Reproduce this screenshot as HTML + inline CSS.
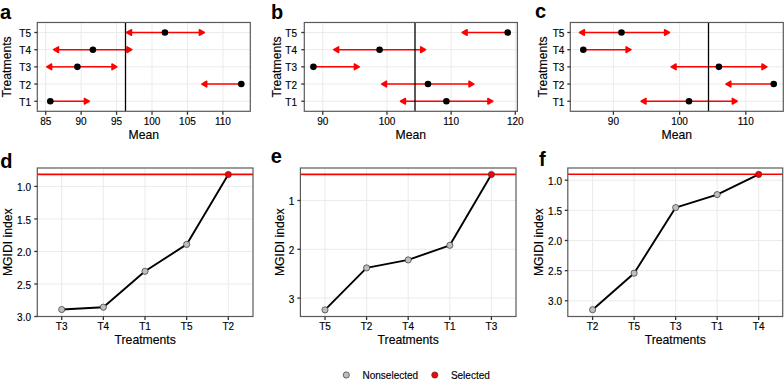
<!DOCTYPE html>
<html><head><meta charset="utf-8"><title>MGIDI figure</title>
<style>
html,body{margin:0;padding:0;background:#fff;}
body{width:784px;height:391px;overflow:hidden;}
svg{display:block;}

text{font-family:"Liberation Sans",sans-serif;}
.tk{font-size:10px;fill:#000;stroke:#000;stroke-width:0.15px;}
.ti{font-size:12.2px;fill:#000;stroke:#000;stroke-width:0.15px;}
.pl{font-size:20px;font-weight:bold;fill:#000;}
.lg{font-size:10px;fill:#000;stroke:#000;stroke-width:0.15px;}
</style></head>
<body><div class="wrap">
<svg width="784" height="391" viewBox="0 0 784 391">
<rect width="784" height="391" fill="#fff"/>
<g>
<rect x="37.3" y="22.48" width="213" height="88.82" fill="#fff"/>
<line x1="37.3" y1="32.5" x2="250.3" y2="32.5" stroke="#ebebeb" stroke-width="1"/>
<line x1="37.3" y1="49.7" x2="250.3" y2="49.7" stroke="#ebebeb" stroke-width="1"/>
<line x1="37.3" y1="66.85" x2="250.3" y2="66.85" stroke="#ebebeb" stroke-width="1"/>
<line x1="37.3" y1="84.05" x2="250.3" y2="84.05" stroke="#ebebeb" stroke-width="1"/>
<line x1="37.3" y1="101.25" x2="250.3" y2="101.25" stroke="#ebebeb" stroke-width="1"/>
<line x1="45.7" y1="22.48" x2="45.7" y2="111.3" stroke="#ebebeb" stroke-width="1"/>
<line x1="81.14" y1="22.48" x2="81.14" y2="111.3" stroke="#ebebeb" stroke-width="1"/>
<line x1="116.58" y1="22.48" x2="116.58" y2="111.3" stroke="#ebebeb" stroke-width="1"/>
<line x1="152.02" y1="22.48" x2="152.02" y2="111.3" stroke="#ebebeb" stroke-width="1"/>
<line x1="187.46" y1="22.48" x2="187.46" y2="111.3" stroke="#ebebeb" stroke-width="1"/>
<line x1="222.9" y1="22.48" x2="222.9" y2="111.3" stroke="#ebebeb" stroke-width="1"/>
<line x1="164.9" y1="32.5" x2="131.5" y2="32.5" stroke="#ff0000" stroke-width="1.5"/>
<polygon points="126.6,32.5 131.5,29.67 131.5,35.33" fill="#ff0000" stroke="#ff0000" stroke-width="1.5" stroke-linejoin="round"/>
<line x1="164.9" y1="32.5" x2="199.4" y2="32.5" stroke="#ff0000" stroke-width="1.5"/>
<polygon points="204.3,32.5 199.4,29.67 199.4,35.33" fill="#ff0000" stroke="#ff0000" stroke-width="1.5" stroke-linejoin="round"/>
<line x1="92.9" y1="49.7" x2="58.5" y2="49.7" stroke="#ff0000" stroke-width="1.5"/>
<polygon points="53.6,49.7 58.5,46.87 58.5,52.53" fill="#ff0000" stroke="#ff0000" stroke-width="1.5" stroke-linejoin="round"/>
<line x1="92.9" y1="49.7" x2="127" y2="49.7" stroke="#ff0000" stroke-width="1.5"/>
<polygon points="131.9,49.7 127,46.87 127,52.53" fill="#ff0000" stroke="#ff0000" stroke-width="1.5" stroke-linejoin="round"/>
<line x1="77.4" y1="66.85" x2="51.6" y2="66.85" stroke="#ff0000" stroke-width="1.5"/>
<polygon points="46.7,66.85 51.6,64.02 51.6,69.68" fill="#ff0000" stroke="#ff0000" stroke-width="1.5" stroke-linejoin="round"/>
<line x1="77.4" y1="66.85" x2="112" y2="66.85" stroke="#ff0000" stroke-width="1.5"/>
<polygon points="116.9,66.85 112,64.02 112,69.68" fill="#ff0000" stroke="#ff0000" stroke-width="1.5" stroke-linejoin="round"/>
<line x1="241.3" y1="84.05" x2="206.7" y2="84.05" stroke="#ff0000" stroke-width="1.5"/>
<polygon points="201.8,84.05 206.7,81.22 206.7,86.88" fill="#ff0000" stroke="#ff0000" stroke-width="1.5" stroke-linejoin="round"/>
<line x1="50.3" y1="101.25" x2="84.4" y2="101.25" stroke="#ff0000" stroke-width="1.5"/>
<polygon points="89.3,101.25 84.4,98.42 84.4,104.08" fill="#ff0000" stroke="#ff0000" stroke-width="1.5" stroke-linejoin="round"/>
<line x1="125.5" y1="22.48" x2="125.5" y2="111.3" stroke="#000" stroke-width="1.3"/>
<circle cx="164.9" cy="32.5" r="3.3" fill="#000"/>
<circle cx="92.9" cy="49.7" r="3.3" fill="#000"/>
<circle cx="77.4" cy="66.85" r="3.3" fill="#000"/>
<circle cx="241.3" cy="84.05" r="3.3" fill="#000"/>
<circle cx="50.3" cy="101.25" r="3.3" fill="#000"/>
<rect x="37.3" y="22.48" width="213" height="88.82" fill="none" stroke="#5a5a5a" stroke-width="1.2"/>
<line x1="34.3" y1="32.5" x2="37.3" y2="32.5" stroke="#333333" stroke-width="1.3"/>
<text x="31" y="37.1" text-anchor="end" class="tk">T5</text>
<line x1="34.3" y1="49.7" x2="37.3" y2="49.7" stroke="#333333" stroke-width="1.3"/>
<text x="31" y="54.3" text-anchor="end" class="tk">T4</text>
<line x1="34.3" y1="66.85" x2="37.3" y2="66.85" stroke="#333333" stroke-width="1.3"/>
<text x="31" y="71.45" text-anchor="end" class="tk">T3</text>
<line x1="34.3" y1="84.05" x2="37.3" y2="84.05" stroke="#333333" stroke-width="1.3"/>
<text x="31" y="88.65" text-anchor="end" class="tk">T2</text>
<line x1="34.3" y1="101.25" x2="37.3" y2="101.25" stroke="#333333" stroke-width="1.3"/>
<text x="31" y="105.85" text-anchor="end" class="tk">T1</text>
<line x1="45.7" y1="111.3" x2="45.7" y2="114.8" stroke="#333333" stroke-width="1.3"/>
<text x="45.7" y="124.6" text-anchor="middle" class="tk">85</text>
<line x1="81.14" y1="111.3" x2="81.14" y2="114.8" stroke="#333333" stroke-width="1.3"/>
<text x="81.14" y="124.6" text-anchor="middle" class="tk">90</text>
<line x1="116.58" y1="111.3" x2="116.58" y2="114.8" stroke="#333333" stroke-width="1.3"/>
<text x="116.58" y="124.6" text-anchor="middle" class="tk">95</text>
<line x1="152.02" y1="111.3" x2="152.02" y2="114.8" stroke="#333333" stroke-width="1.3"/>
<text x="152.02" y="124.6" text-anchor="middle" class="tk">100</text>
<line x1="187.46" y1="111.3" x2="187.46" y2="114.8" stroke="#333333" stroke-width="1.3"/>
<text x="187.46" y="124.6" text-anchor="middle" class="tk">105</text>
<line x1="222.9" y1="111.3" x2="222.9" y2="114.8" stroke="#333333" stroke-width="1.3"/>
<text x="222.9" y="124.6" text-anchor="middle" class="tk">110</text>
<text x="143.8" y="138.6" text-anchor="middle" class="ti">Mean</text>
<text transform="translate(11,66.89) rotate(-90)" text-anchor="middle" class="ti">Treatments</text>
<rect x="304.3" y="22.48" width="213.1" height="88.82" fill="#fff"/>
<line x1="304.3" y1="32.5" x2="517.4" y2="32.5" stroke="#ebebeb" stroke-width="1"/>
<line x1="304.3" y1="49.7" x2="517.4" y2="49.7" stroke="#ebebeb" stroke-width="1"/>
<line x1="304.3" y1="66.85" x2="517.4" y2="66.85" stroke="#ebebeb" stroke-width="1"/>
<line x1="304.3" y1="84.05" x2="517.4" y2="84.05" stroke="#ebebeb" stroke-width="1"/>
<line x1="304.3" y1="101.25" x2="517.4" y2="101.25" stroke="#ebebeb" stroke-width="1"/>
<line x1="322.8" y1="22.48" x2="322.8" y2="111.3" stroke="#ebebeb" stroke-width="1"/>
<line x1="386.97" y1="22.48" x2="386.97" y2="111.3" stroke="#ebebeb" stroke-width="1"/>
<line x1="451.13" y1="22.48" x2="451.13" y2="111.3" stroke="#ebebeb" stroke-width="1"/>
<line x1="515.3" y1="22.48" x2="515.3" y2="111.3" stroke="#ebebeb" stroke-width="1"/>
<line x1="507.7" y1="32.5" x2="467.1" y2="32.5" stroke="#ff0000" stroke-width="1.5"/>
<polygon points="462.2,32.5 467.1,29.67 467.1,35.33" fill="#ff0000" stroke="#ff0000" stroke-width="1.5" stroke-linejoin="round"/>
<line x1="379.6" y1="49.7" x2="338.6" y2="49.7" stroke="#ff0000" stroke-width="1.5"/>
<polygon points="333.7,49.7 338.6,46.87 338.6,52.53" fill="#ff0000" stroke="#ff0000" stroke-width="1.5" stroke-linejoin="round"/>
<line x1="379.6" y1="49.7" x2="420.7" y2="49.7" stroke="#ff0000" stroke-width="1.5"/>
<polygon points="425.6,49.7 420.7,46.87 420.7,52.53" fill="#ff0000" stroke="#ff0000" stroke-width="1.5" stroke-linejoin="round"/>
<line x1="313.4" y1="66.85" x2="354.4" y2="66.85" stroke="#ff0000" stroke-width="1.5"/>
<polygon points="359.3,66.85 354.4,64.02 354.4,69.68" fill="#ff0000" stroke="#ff0000" stroke-width="1.5" stroke-linejoin="round"/>
<line x1="428" y1="84.05" x2="386.5" y2="84.05" stroke="#ff0000" stroke-width="1.5"/>
<polygon points="381.6,84.05 386.5,81.22 386.5,86.88" fill="#ff0000" stroke="#ff0000" stroke-width="1.5" stroke-linejoin="round"/>
<line x1="428" y1="84.05" x2="469" y2="84.05" stroke="#ff0000" stroke-width="1.5"/>
<polygon points="473.9,84.05 469,81.22 469,86.88" fill="#ff0000" stroke="#ff0000" stroke-width="1.5" stroke-linejoin="round"/>
<line x1="446.4" y1="101.25" x2="405.4" y2="101.25" stroke="#ff0000" stroke-width="1.5"/>
<polygon points="400.5,101.25 405.4,98.42 405.4,104.08" fill="#ff0000" stroke="#ff0000" stroke-width="1.5" stroke-linejoin="round"/>
<line x1="446.4" y1="101.25" x2="487.9" y2="101.25" stroke="#ff0000" stroke-width="1.5"/>
<polygon points="492.8,101.25 487.9,98.42 487.9,104.08" fill="#ff0000" stroke="#ff0000" stroke-width="1.5" stroke-linejoin="round"/>
<line x1="415" y1="22.48" x2="415" y2="111.3" stroke="#000" stroke-width="1.3"/>
<circle cx="507.7" cy="32.5" r="3.3" fill="#000"/>
<circle cx="379.6" cy="49.7" r="3.3" fill="#000"/>
<circle cx="313.4" cy="66.85" r="3.3" fill="#000"/>
<circle cx="428" cy="84.05" r="3.3" fill="#000"/>
<circle cx="446.4" cy="101.25" r="3.3" fill="#000"/>
<rect x="304.3" y="22.48" width="213.1" height="88.82" fill="none" stroke="#5a5a5a" stroke-width="1.2"/>
<line x1="301.3" y1="32.5" x2="304.3" y2="32.5" stroke="#333333" stroke-width="1.3"/>
<text x="297" y="37.1" text-anchor="end" class="tk">T5</text>
<line x1="301.3" y1="49.7" x2="304.3" y2="49.7" stroke="#333333" stroke-width="1.3"/>
<text x="297" y="54.3" text-anchor="end" class="tk">T4</text>
<line x1="301.3" y1="66.85" x2="304.3" y2="66.85" stroke="#333333" stroke-width="1.3"/>
<text x="297" y="71.45" text-anchor="end" class="tk">T3</text>
<line x1="301.3" y1="84.05" x2="304.3" y2="84.05" stroke="#333333" stroke-width="1.3"/>
<text x="297" y="88.65" text-anchor="end" class="tk">T2</text>
<line x1="301.3" y1="101.25" x2="304.3" y2="101.25" stroke="#333333" stroke-width="1.3"/>
<text x="297" y="105.85" text-anchor="end" class="tk">T1</text>
<line x1="322.8" y1="111.3" x2="322.8" y2="114.8" stroke="#333333" stroke-width="1.3"/>
<text x="322.8" y="124.6" text-anchor="middle" class="tk">90</text>
<line x1="386.97" y1="111.3" x2="386.97" y2="114.8" stroke="#333333" stroke-width="1.3"/>
<text x="386.97" y="124.6" text-anchor="middle" class="tk">100</text>
<line x1="451.13" y1="111.3" x2="451.13" y2="114.8" stroke="#333333" stroke-width="1.3"/>
<text x="451.13" y="124.6" text-anchor="middle" class="tk">110</text>
<line x1="515.3" y1="111.3" x2="515.3" y2="114.8" stroke="#333333" stroke-width="1.3"/>
<text x="515.3" y="124.6" text-anchor="middle" class="tk">120</text>
<text x="410.85" y="138.6" text-anchor="middle" class="ti">Mean</text>
<text transform="translate(280.5,66.89) rotate(-90)" text-anchor="middle" class="ti">Treatments</text>
<rect x="570.3" y="22.48" width="213" height="88.82" fill="#fff"/>
<line x1="570.3" y1="32.5" x2="783.3" y2="32.5" stroke="#ebebeb" stroke-width="1"/>
<line x1="570.3" y1="49.7" x2="783.3" y2="49.7" stroke="#ebebeb" stroke-width="1"/>
<line x1="570.3" y1="66.85" x2="783.3" y2="66.85" stroke="#ebebeb" stroke-width="1"/>
<line x1="570.3" y1="84.05" x2="783.3" y2="84.05" stroke="#ebebeb" stroke-width="1"/>
<line x1="570.3" y1="101.25" x2="783.3" y2="101.25" stroke="#ebebeb" stroke-width="1"/>
<line x1="613.4" y1="22.48" x2="613.4" y2="111.3" stroke="#ebebeb" stroke-width="1"/>
<line x1="679.6" y1="22.48" x2="679.6" y2="111.3" stroke="#ebebeb" stroke-width="1"/>
<line x1="745.8" y1="22.48" x2="745.8" y2="111.3" stroke="#ebebeb" stroke-width="1"/>
<line x1="621.5" y1="32.5" x2="584.4" y2="32.5" stroke="#ff0000" stroke-width="1.5"/>
<polygon points="579.5,32.5 584.4,29.67 584.4,35.33" fill="#ff0000" stroke="#ff0000" stroke-width="1.5" stroke-linejoin="round"/>
<line x1="621.5" y1="32.5" x2="664.6" y2="32.5" stroke="#ff0000" stroke-width="1.5"/>
<polygon points="669.5,32.5 664.6,29.67 664.6,35.33" fill="#ff0000" stroke="#ff0000" stroke-width="1.5" stroke-linejoin="round"/>
<line x1="583.3" y1="49.7" x2="626.1" y2="49.7" stroke="#ff0000" stroke-width="1.5"/>
<polygon points="631,49.7 626.1,46.87 626.1,52.53" fill="#ff0000" stroke="#ff0000" stroke-width="1.5" stroke-linejoin="round"/>
<line x1="718.9" y1="66.85" x2="676" y2="66.85" stroke="#ff0000" stroke-width="1.5"/>
<polygon points="671.1,66.85 676,64.02 676,69.68" fill="#ff0000" stroke="#ff0000" stroke-width="1.5" stroke-linejoin="round"/>
<line x1="718.9" y1="66.85" x2="762" y2="66.85" stroke="#ff0000" stroke-width="1.5"/>
<polygon points="766.9,66.85 762,64.02 762,69.68" fill="#ff0000" stroke="#ff0000" stroke-width="1.5" stroke-linejoin="round"/>
<line x1="773.7" y1="84.05" x2="730.8" y2="84.05" stroke="#ff0000" stroke-width="1.5"/>
<polygon points="725.9,84.05 730.8,81.22 730.8,86.88" fill="#ff0000" stroke="#ff0000" stroke-width="1.5" stroke-linejoin="round"/>
<line x1="689" y1="101.25" x2="646" y2="101.25" stroke="#ff0000" stroke-width="1.5"/>
<polygon points="641.1,101.25 646,98.42 646,104.08" fill="#ff0000" stroke="#ff0000" stroke-width="1.5" stroke-linejoin="round"/>
<line x1="689" y1="101.25" x2="732.3" y2="101.25" stroke="#ff0000" stroke-width="1.5"/>
<polygon points="737.2,101.25 732.3,98.42 732.3,104.08" fill="#ff0000" stroke="#ff0000" stroke-width="1.5" stroke-linejoin="round"/>
<line x1="708.5" y1="22.48" x2="708.5" y2="111.3" stroke="#000" stroke-width="1.3"/>
<circle cx="621.5" cy="32.5" r="3.3" fill="#000"/>
<circle cx="583.3" cy="49.7" r="3.3" fill="#000"/>
<circle cx="718.9" cy="66.85" r="3.3" fill="#000"/>
<circle cx="773.7" cy="84.05" r="3.3" fill="#000"/>
<circle cx="689" cy="101.25" r="3.3" fill="#000"/>
<rect x="570.3" y="22.48" width="213" height="88.82" fill="none" stroke="#5a5a5a" stroke-width="1.2"/>
<line x1="567.3" y1="32.5" x2="570.3" y2="32.5" stroke="#333333" stroke-width="1.3"/>
<text x="564.3" y="37.1" text-anchor="end" class="tk">T5</text>
<line x1="567.3" y1="49.7" x2="570.3" y2="49.7" stroke="#333333" stroke-width="1.3"/>
<text x="564.3" y="54.3" text-anchor="end" class="tk">T4</text>
<line x1="567.3" y1="66.85" x2="570.3" y2="66.85" stroke="#333333" stroke-width="1.3"/>
<text x="564.3" y="71.45" text-anchor="end" class="tk">T3</text>
<line x1="567.3" y1="84.05" x2="570.3" y2="84.05" stroke="#333333" stroke-width="1.3"/>
<text x="564.3" y="88.65" text-anchor="end" class="tk">T2</text>
<line x1="567.3" y1="101.25" x2="570.3" y2="101.25" stroke="#333333" stroke-width="1.3"/>
<text x="564.3" y="105.85" text-anchor="end" class="tk">T1</text>
<line x1="613.4" y1="111.3" x2="613.4" y2="114.8" stroke="#333333" stroke-width="1.3"/>
<text x="613.4" y="124.6" text-anchor="middle" class="tk">90</text>
<line x1="679.6" y1="111.3" x2="679.6" y2="114.8" stroke="#333333" stroke-width="1.3"/>
<text x="679.6" y="124.6" text-anchor="middle" class="tk">100</text>
<line x1="745.8" y1="111.3" x2="745.8" y2="114.8" stroke="#333333" stroke-width="1.3"/>
<text x="745.8" y="124.6" text-anchor="middle" class="tk">110</text>
<text x="676.8" y="138.6" text-anchor="middle" class="ti">Mean</text>
<text transform="translate(546.9,66.89) rotate(-90)" text-anchor="middle" class="ti">Treatments</text>
<rect x="37.3" y="168" width="215.7" height="148.5" fill="#fff"/>
<line x1="37.3" y1="186.4" x2="253" y2="186.4" stroke="#ebebeb" stroke-width="1"/>
<line x1="37.3" y1="218.93" x2="253" y2="218.93" stroke="#ebebeb" stroke-width="1"/>
<line x1="37.3" y1="251.45" x2="253" y2="251.45" stroke="#ebebeb" stroke-width="1"/>
<line x1="37.3" y1="283.98" x2="253" y2="283.98" stroke="#ebebeb" stroke-width="1"/>
<line x1="37.3" y1="316.5" x2="253" y2="316.5" stroke="#ebebeb" stroke-width="1"/>
<line x1="61.7" y1="168" x2="61.7" y2="316.5" stroke="#ebebeb" stroke-width="1"/>
<line x1="103.35" y1="168" x2="103.35" y2="316.5" stroke="#ebebeb" stroke-width="1"/>
<line x1="145" y1="168" x2="145" y2="316.5" stroke="#ebebeb" stroke-width="1"/>
<line x1="186.65" y1="168" x2="186.65" y2="316.5" stroke="#ebebeb" stroke-width="1"/>
<line x1="228.3" y1="168" x2="228.3" y2="316.5" stroke="#ebebeb" stroke-width="1"/>
<line x1="37.3" y1="174.4" x2="253" y2="174.4" stroke="#ff0000" stroke-width="1.6"/>
<polyline points="61.7,309.5 103.35,307.2 145,271.3 186.65,244.4 228.3,174.5" fill="none" stroke="#000" stroke-width="1.9" stroke-linejoin="round"/>
<circle cx="61.7" cy="309.5" r="3.1" fill="#bebebe" stroke="#333" stroke-width="0.7"/>
<circle cx="103.35" cy="307.2" r="3.1" fill="#bebebe" stroke="#333" stroke-width="0.7"/>
<circle cx="145" cy="271.3" r="3.1" fill="#bebebe" stroke="#333" stroke-width="0.7"/>
<circle cx="186.65" cy="244.4" r="3.1" fill="#bebebe" stroke="#333" stroke-width="0.7"/>
<circle cx="228.3" cy="174.5" r="3.1" fill="#ff0000" stroke="#333" stroke-width="0.7"/>
<rect x="37.3" y="168" width="215.7" height="148.5" fill="none" stroke="#5a5a5a" stroke-width="1.2"/>
<line x1="34.3" y1="186.4" x2="37.3" y2="186.4" stroke="#333333" stroke-width="1.3"/>
<text x="31" y="191" text-anchor="end" class="tk">1.0</text>
<line x1="34.3" y1="218.93" x2="37.3" y2="218.93" stroke="#333333" stroke-width="1.3"/>
<text x="31" y="223.53" text-anchor="end" class="tk">1.5</text>
<line x1="34.3" y1="251.45" x2="37.3" y2="251.45" stroke="#333333" stroke-width="1.3"/>
<text x="31" y="256.05" text-anchor="end" class="tk">2.0</text>
<line x1="34.3" y1="283.98" x2="37.3" y2="283.98" stroke="#333333" stroke-width="1.3"/>
<text x="31" y="288.58" text-anchor="end" class="tk">2.5</text>
<line x1="34.3" y1="316.5" x2="37.3" y2="316.5" stroke="#333333" stroke-width="1.3"/>
<text x="31" y="321.1" text-anchor="end" class="tk">3.0</text>
<line x1="61.7" y1="316.5" x2="61.7" y2="320" stroke="#333333" stroke-width="1.3"/>
<text x="61.7" y="330.2" text-anchor="middle" class="tk">T3</text>
<line x1="103.35" y1="316.5" x2="103.35" y2="320" stroke="#333333" stroke-width="1.3"/>
<text x="103.35" y="330.2" text-anchor="middle" class="tk">T4</text>
<line x1="145" y1="316.5" x2="145" y2="320" stroke="#333333" stroke-width="1.3"/>
<text x="145" y="330.2" text-anchor="middle" class="tk">T1</text>
<line x1="186.65" y1="316.5" x2="186.65" y2="320" stroke="#333333" stroke-width="1.3"/>
<text x="186.65" y="330.2" text-anchor="middle" class="tk">T5</text>
<line x1="228.3" y1="316.5" x2="228.3" y2="320" stroke="#333333" stroke-width="1.3"/>
<text x="228.3" y="330.2" text-anchor="middle" class="tk">T2</text>
<text x="145.15" y="343.8" text-anchor="middle" class="ti">Treatments</text>
<text transform="translate(11.5,242.25) rotate(-90)" text-anchor="middle" class="ti">MGIDI index</text>
<rect x="300.4" y="168" width="215.6" height="148.5" fill="#fff"/>
<line x1="300.4" y1="200.5" x2="516" y2="200.5" stroke="#ebebeb" stroke-width="1"/>
<line x1="300.4" y1="249.3" x2="516" y2="249.3" stroke="#ebebeb" stroke-width="1"/>
<line x1="300.4" y1="298.1" x2="516" y2="298.1" stroke="#ebebeb" stroke-width="1"/>
<line x1="325" y1="168" x2="325" y2="316.5" stroke="#ebebeb" stroke-width="1"/>
<line x1="366.6" y1="168" x2="366.6" y2="316.5" stroke="#ebebeb" stroke-width="1"/>
<line x1="408.2" y1="168" x2="408.2" y2="316.5" stroke="#ebebeb" stroke-width="1"/>
<line x1="449.8" y1="168" x2="449.8" y2="316.5" stroke="#ebebeb" stroke-width="1"/>
<line x1="491.4" y1="168" x2="491.4" y2="316.5" stroke="#ebebeb" stroke-width="1"/>
<line x1="300.4" y1="174.4" x2="516" y2="174.4" stroke="#ff0000" stroke-width="1.6"/>
<polyline points="325,309.9 366.6,267.9 408.2,259.9 449.8,245.3 491.4,174.5" fill="none" stroke="#000" stroke-width="1.9" stroke-linejoin="round"/>
<circle cx="325" cy="309.9" r="3.1" fill="#bebebe" stroke="#333" stroke-width="0.7"/>
<circle cx="366.6" cy="267.9" r="3.1" fill="#bebebe" stroke="#333" stroke-width="0.7"/>
<circle cx="408.2" cy="259.9" r="3.1" fill="#bebebe" stroke="#333" stroke-width="0.7"/>
<circle cx="449.8" cy="245.3" r="3.1" fill="#bebebe" stroke="#333" stroke-width="0.7"/>
<circle cx="491.4" cy="174.5" r="3.1" fill="#ff0000" stroke="#333" stroke-width="0.7"/>
<rect x="300.4" y="168" width="215.6" height="148.5" fill="none" stroke="#5a5a5a" stroke-width="1.2"/>
<line x1="297.4" y1="200.5" x2="300.4" y2="200.5" stroke="#333333" stroke-width="1.3"/>
<text x="294.3" y="205.1" text-anchor="end" class="tk">1</text>
<line x1="297.4" y1="249.3" x2="300.4" y2="249.3" stroke="#333333" stroke-width="1.3"/>
<text x="294.3" y="253.9" text-anchor="end" class="tk">2</text>
<line x1="297.4" y1="298.1" x2="300.4" y2="298.1" stroke="#333333" stroke-width="1.3"/>
<text x="294.3" y="302.7" text-anchor="end" class="tk">3</text>
<line x1="325" y1="316.5" x2="325" y2="320" stroke="#333333" stroke-width="1.3"/>
<text x="325" y="330.2" text-anchor="middle" class="tk">T5</text>
<line x1="366.6" y1="316.5" x2="366.6" y2="320" stroke="#333333" stroke-width="1.3"/>
<text x="366.6" y="330.2" text-anchor="middle" class="tk">T2</text>
<line x1="408.2" y1="316.5" x2="408.2" y2="320" stroke="#333333" stroke-width="1.3"/>
<text x="408.2" y="330.2" text-anchor="middle" class="tk">T4</text>
<line x1="449.8" y1="316.5" x2="449.8" y2="320" stroke="#333333" stroke-width="1.3"/>
<text x="449.8" y="330.2" text-anchor="middle" class="tk">T1</text>
<line x1="491.4" y1="316.5" x2="491.4" y2="320" stroke="#333333" stroke-width="1.3"/>
<text x="491.4" y="330.2" text-anchor="middle" class="tk">T3</text>
<text x="408.2" y="343.8" text-anchor="middle" class="ti">Treatments</text>
<text transform="translate(284,242.25) rotate(-90)" text-anchor="middle" class="ti">MGIDI index</text>
<rect x="567.8" y="168" width="214.9" height="148.5" fill="#fff"/>
<line x1="567.8" y1="180.2" x2="782.7" y2="180.2" stroke="#ebebeb" stroke-width="1"/>
<line x1="567.8" y1="210.35" x2="782.7" y2="210.35" stroke="#ebebeb" stroke-width="1"/>
<line x1="567.8" y1="240.5" x2="782.7" y2="240.5" stroke="#ebebeb" stroke-width="1"/>
<line x1="567.8" y1="270.65" x2="782.7" y2="270.65" stroke="#ebebeb" stroke-width="1"/>
<line x1="567.8" y1="300.8" x2="782.7" y2="300.8" stroke="#ebebeb" stroke-width="1"/>
<line x1="592.6" y1="168" x2="592.6" y2="316.5" stroke="#ebebeb" stroke-width="1"/>
<line x1="634.12" y1="168" x2="634.12" y2="316.5" stroke="#ebebeb" stroke-width="1"/>
<line x1="675.65" y1="168" x2="675.65" y2="316.5" stroke="#ebebeb" stroke-width="1"/>
<line x1="717.17" y1="168" x2="717.17" y2="316.5" stroke="#ebebeb" stroke-width="1"/>
<line x1="758.7" y1="168" x2="758.7" y2="316.5" stroke="#ebebeb" stroke-width="1"/>
<line x1="567.8" y1="174.3" x2="782.7" y2="174.3" stroke="#ff0000" stroke-width="1.6"/>
<polyline points="592.6,309.7 634.12,273.2 675.65,207.6 717.17,194.6 758.7,174.4" fill="none" stroke="#000" stroke-width="1.9" stroke-linejoin="round"/>
<circle cx="592.6" cy="309.7" r="3.1" fill="#bebebe" stroke="#333" stroke-width="0.7"/>
<circle cx="634.12" cy="273.2" r="3.1" fill="#bebebe" stroke="#333" stroke-width="0.7"/>
<circle cx="675.65" cy="207.6" r="3.1" fill="#bebebe" stroke="#333" stroke-width="0.7"/>
<circle cx="717.17" cy="194.6" r="3.1" fill="#bebebe" stroke="#333" stroke-width="0.7"/>
<circle cx="758.7" cy="174.4" r="3.1" fill="#ff0000" stroke="#333" stroke-width="0.7"/>
<rect x="567.8" y="168" width="214.9" height="148.5" fill="none" stroke="#5a5a5a" stroke-width="1.2"/>
<line x1="564.8" y1="180.2" x2="567.8" y2="180.2" stroke="#333333" stroke-width="1.3"/>
<text x="562" y="184.8" text-anchor="end" class="tk">1.0</text>
<line x1="564.8" y1="210.35" x2="567.8" y2="210.35" stroke="#333333" stroke-width="1.3"/>
<text x="562" y="214.95" text-anchor="end" class="tk">1.5</text>
<line x1="564.8" y1="240.5" x2="567.8" y2="240.5" stroke="#333333" stroke-width="1.3"/>
<text x="562" y="245.1" text-anchor="end" class="tk">2.0</text>
<line x1="564.8" y1="270.65" x2="567.8" y2="270.65" stroke="#333333" stroke-width="1.3"/>
<text x="562" y="275.25" text-anchor="end" class="tk">2.5</text>
<line x1="564.8" y1="300.8" x2="567.8" y2="300.8" stroke="#333333" stroke-width="1.3"/>
<text x="562" y="305.4" text-anchor="end" class="tk">3.0</text>
<line x1="592.6" y1="316.5" x2="592.6" y2="320" stroke="#333333" stroke-width="1.3"/>
<text x="592.6" y="330.2" text-anchor="middle" class="tk">T2</text>
<line x1="634.12" y1="316.5" x2="634.12" y2="320" stroke="#333333" stroke-width="1.3"/>
<text x="634.12" y="330.2" text-anchor="middle" class="tk">T5</text>
<line x1="675.65" y1="316.5" x2="675.65" y2="320" stroke="#333333" stroke-width="1.3"/>
<text x="675.65" y="330.2" text-anchor="middle" class="tk">T3</text>
<line x1="717.17" y1="316.5" x2="717.17" y2="320" stroke="#333333" stroke-width="1.3"/>
<text x="717.17" y="330.2" text-anchor="middle" class="tk">T1</text>
<line x1="758.7" y1="316.5" x2="758.7" y2="320" stroke="#333333" stroke-width="1.3"/>
<text x="758.7" y="330.2" text-anchor="middle" class="tk">T4</text>
<text x="675.25" y="343.8" text-anchor="middle" class="ti">Treatments</text>
<text transform="translate(543.2,242.25) rotate(-90)" text-anchor="middle" class="ti">MGIDI index</text>
<text x="0" y="18.5" class="pl">a</text>
<text x="271" y="18.5" class="pl">b</text>
<text x="535" y="17.5" class="pl">c</text>
<text x="0.3" y="167.7" class="pl">d</text>
<text x="270.8" y="163" class="pl">e</text>
<text x="539" y="165.5" class="pl">f</text>
<circle cx="346.3" cy="375" r="3.1" fill="#bebebe" stroke="#333" stroke-width="0.7"/>
<text x="362.5" y="378.8" class="lg">Nonselected</text>
<circle cx="434.8" cy="375" r="3.1" fill="#ff0000" stroke="#333" stroke-width="0.7"/>
<text x="450.9" y="378.8" class="lg">Selected</text>
</g>
</svg></div>
</body></html>
